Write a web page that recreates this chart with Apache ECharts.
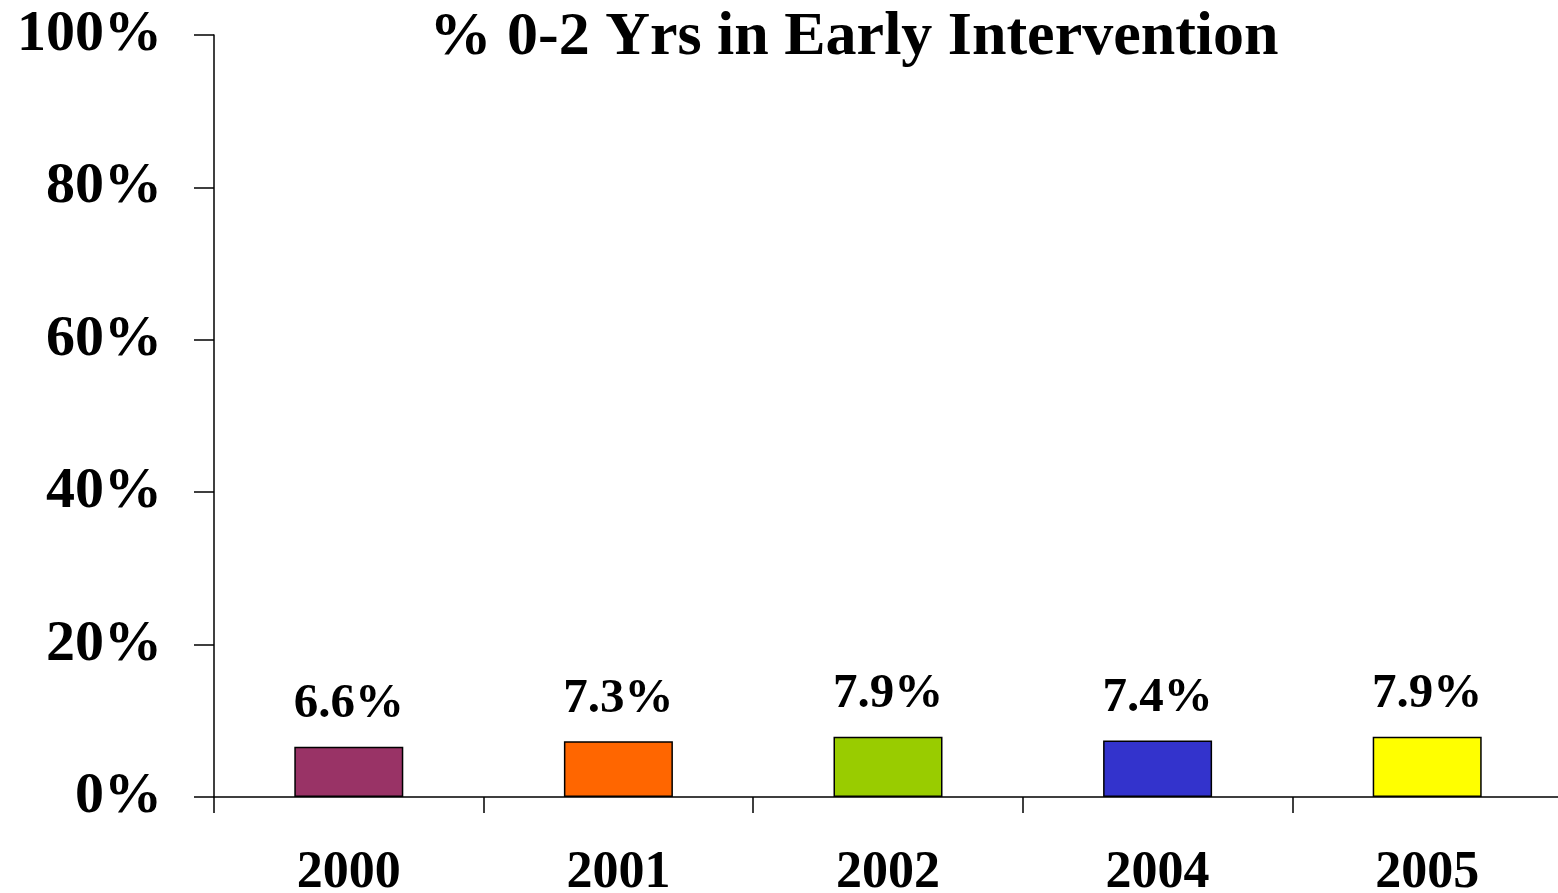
<!DOCTYPE html>
<html>
<head>
<meta charset="utf-8">
<script src="https://cdn.jsdelivr.net/npm/echarts@6/dist/echarts.min.js"></script>
<style>
    html, body { margin: 0; padding: 0; background: #fff; }
    #chart { width: 1558px; height: 893px; }
</style>
</head>
<body>
<div id="chart"></div>
<script>
var years = ['2000', '2001', '2002', '2004', '2005'];
var values = [6.6, 7.3, 7.9, 7.4, 7.9];
var barColors = ['#993366', '#FF6600', '#99CC00', '#3333CC', '#FFFF00'];
var yTicks = [0, 20, 40, 60, 80, 100];

var font = '"Liberation Serif", "Times New Roman", serif';

var myChart = echarts.init(document.getElementById('chart'));

var barData = [];
for (var i = 0; i < values.length; i++) {
    barData.push({
        value: values[i],
        itemStyle: { color: barColors[i] }
    });
}

var option = {
    backgroundColor: '#fff',
    animation: false,
    title: {
        text: '% 0-2 Yrs in Early Intervention',
        left: 849,
        top: 2,
        textAlign: 'center',
        textStyle: {
            fontFamily: font,
            fontWeight: 'bold',
            fontSize: 62,
            color: '#000'
        }
    },
    grid: {
        left: 214,
        top: 35,
        width: 1348,
        height: 762,
        outerBoundsMode: 'none',
        containLabel: false
    },
    xAxis: {
        type: 'category',
        data: years,
        boundaryGap: true,
        axisLine: { lineStyle: { color: '#000', width: 1.5 } },
        axisTick: { show: true, length: 16, alignWithLabel: false, lineStyle: { color: '#000', width: 1.5 } },
        axisLabel: {
            margin: 51,
            fontFamily: font,
            fontWeight: 'bold',
            fontSize: 52,
            color: '#000'
        }
    },
    yAxis: {
        type: 'value',
        min: yTicks[0],
        max: yTicks[yTicks.length - 1],
        interval: 20,
        splitLine: { show: false },
        axisLine: { show: true, lineStyle: { color: '#000', width: 1.5 } },
        axisTick: { show: true, length: 20, lineStyle: { color: '#000', width: 1.5 } },
        axisLabel: {
            margin: 52,
            fontFamily: font,
            fontWeight: 'bold',
            fontSize: 58,
            color: '#000',
            formatter: '{value}%'
        }
    },
    series: [{
        type: 'bar',
        data: barData,
        barWidth: 109,
        itemStyle: { borderColor: '#000', borderWidth: 1.5 },
        label: {
            show: true,
            position: 'top',
            distance: 18,
            fontFamily: font,
            fontWeight: 'bold',
            fontSize: 49,
            color: '#000',
            formatter: function (p) { return p.value.toFixed(1) + '%'; }
        }
    }]
};

myChart.setOption(option);
</script>
</body>
</html>
